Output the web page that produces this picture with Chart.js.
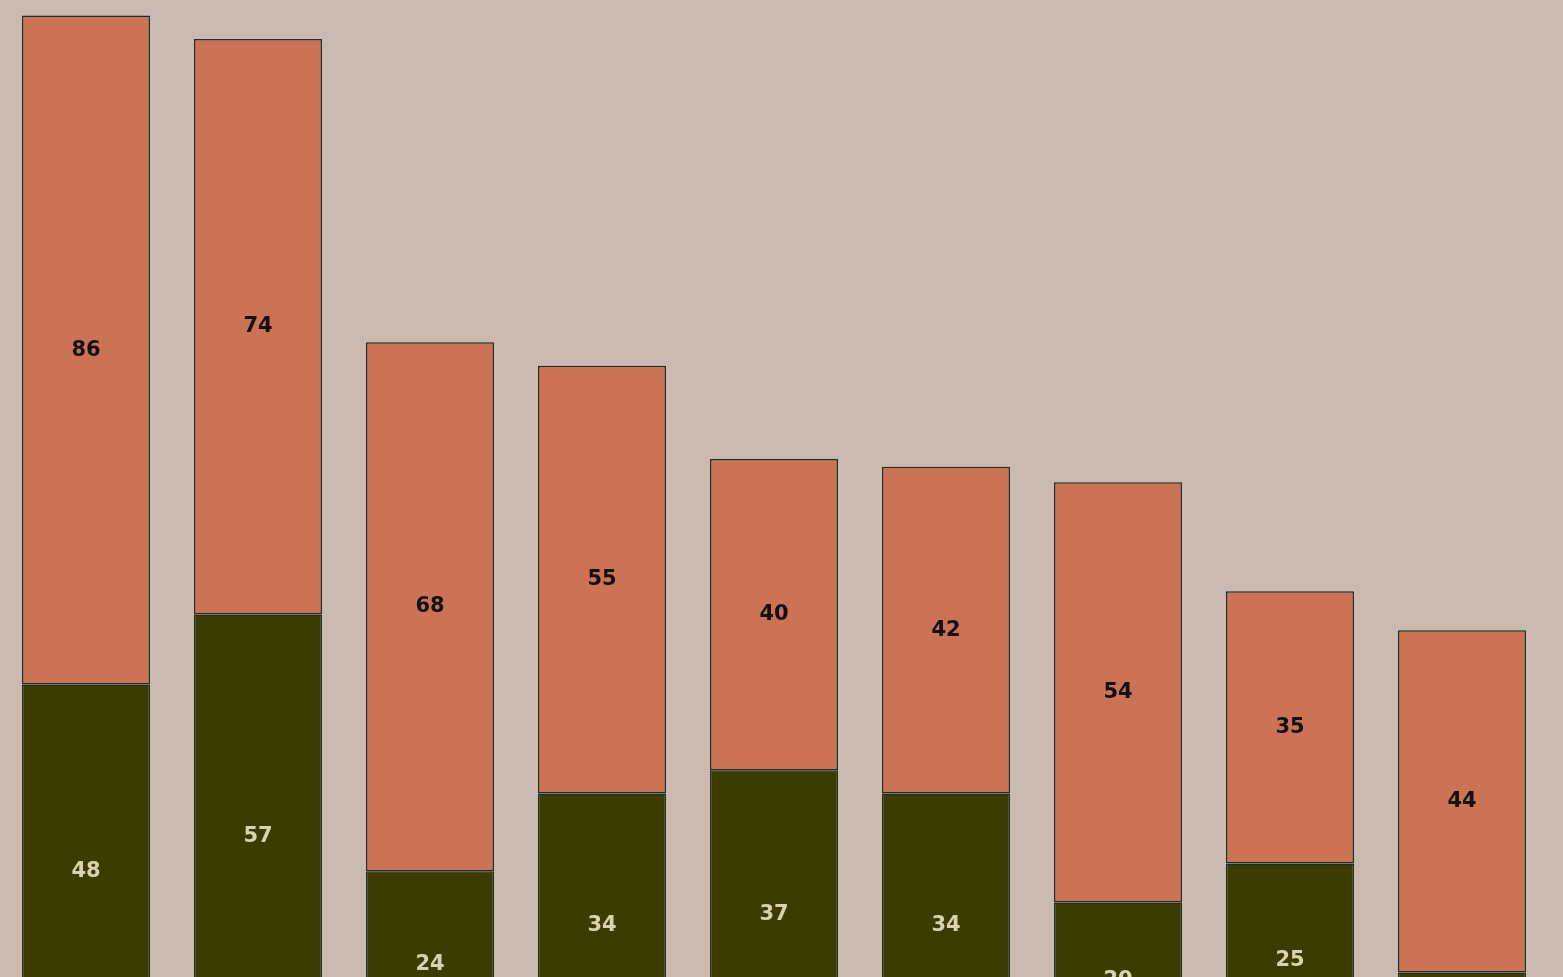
<!DOCTYPE html>
<html>
<head>
<meta charset="utf-8">
<script src="https://cdn.jsdelivr.net/npm/chart.js@4"></script>
<style>
  html, body { margin: 0; padding: 0; overflow: hidden; background: #c9b9b0; }
  #wrap { width: 1563px; height: 977px; overflow: hidden; }
</style>
</head>
<body>
<div id="wrap"><canvas id="chart" width="1563" height="1058"></canvas></div>
<script>
const categories = ['A', 'B', 'C', 'D', 'E', 'F', 'G', 'H', 'I'];
const lowerValues = [48, 57, 24, 34, 37, 34, 20, 25, 11];
const upperValues = [86, 74, 68, 55, 40, 42, 54, 35, 44];

// draws each value in the middle of its segment
const segmentLabels = {
    id: 'segmentLabels',
    afterDatasetsDraw: function(chart) {
        const ctx = chart.ctx;
        ctx.save();
        ctx.textAlign = 'center';
        ctx.textBaseline = 'middle';
        ctx.font = 'bold 21px "DejaVu Sans"';
        chart.data.datasets.forEach(function(ds, i) {
            ctx.fillStyle = i === 0 ? '#d9d2b0' : '#111111';
            chart.getDatasetMeta(i).data.forEach(function(bar, j) {
                ctx.fillText(ds.data[j], bar.x, (bar.y + bar.base) / 2);
            });
        });
        ctx.restore();
    }
};

new Chart(document.getElementById('chart'), {
    type: 'bar',
    data: {
        labels: categories,
        datasets: [
            {
                data: lowerValues,
                backgroundColor: '#3b3d00',
                borderColor: '#1e2e1e',
                borderWidth: 1.5,
                borderSkipped: false
            },
            {
                data: upperValues,
                backgroundColor: '#cc7356',
                borderColor: '#1e2e1e',
                borderWidth: 1.5,
                borderSkipped: false
            }
        ]
    },
    options: {
        responsive: false,
        animation: false,
        devicePixelRatio: 1,
        barPercentage: 0.744,
        categoryPercentage: 1,
        layout: { padding: { left: 0, right: 15, top: 0, bottom: 0 } },
        plugins: {
            legend: { display: false },
            tooltip: { enabled: false }
        },
        scales: {
            x: { stacked: true, display: false },
            y: { stacked: true, display: false, min: 0, max: 136 }
        }
    },
    plugins: [segmentLabels]
});
</script>
</body>
</html>
